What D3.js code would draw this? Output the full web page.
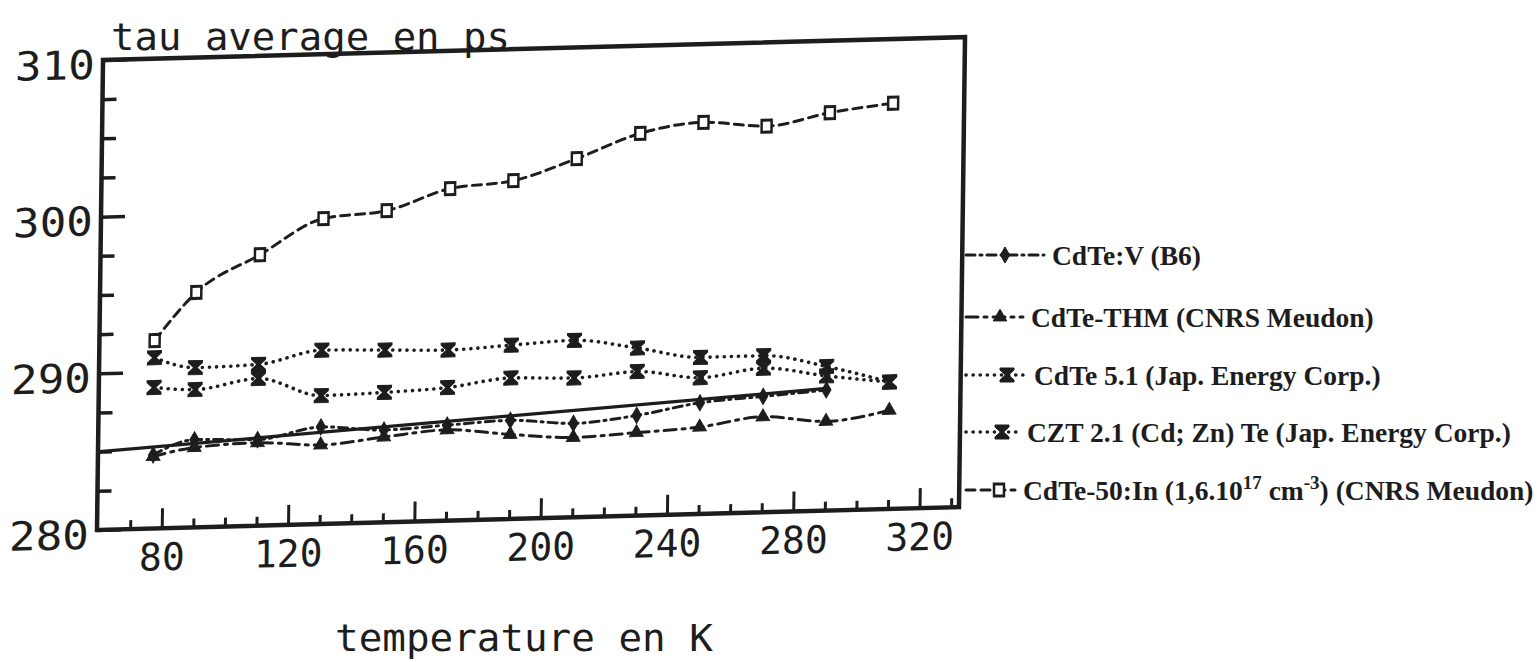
<!DOCTYPE html>
<html><head><meta charset="utf-8">
<script src="https://cdn.jsdelivr.net/npm/d3@7"></script>
<style>html,body{margin:0;padding:0;background:#fff;overflow:hidden}</style>
</head><body><svg id="c" width="1538" height="662"></svg>
<script>
// ---- data ----
const temps    = [77, 90, 110, 130, 150, 170, 190, 210, 230, 250, 270, 290, 310];
const tempsV   = [77, 90, 110, 130, 150, 170, 190, 210, 230, 250, 270, 290];
const cdteIn   = [292.0, 295.0, 297.3, 299.5, 299.9, 301.2, 301.6, 302.9, 304.4, 305.0, 304.65, 305.4, 305.9];
const cdte51   = [290.9, 290.2, 290.3, 291.1, 291.0, 290.9, 291.1, 291.3, 290.7, 290.0, 290.0, 289.2, 288.1];
const czt21    = [289.0, 288.8, 289.4, 288.2, 288.3, 288.5, 289.0, 288.9, 289.2, 288.7, 289.2, 288.6, 288.1];
const cdteV    = [284.7, 285.6, 285.5, 286.2, 285.9, 286.1, 286.3, 286.0, 286.4, 287.1, 287.4, 287.7];
const cdteTHM  = [284.6, 285.1, 285.3, 285.05, 285.45, 285.8, 285.4, 285.1, 285.3, 285.55, 286.1, 285.7, 286.3];
const fitT     = [60, 290];
const fitV     = [285.0, 287.8];
const yTicks   = [280, 282.5, 285, 287.5, 290, 292.5, 295, 297.5, 300, 302.5, 305, 307.5, 310];
const yLabels  = [280, 290, 300, 310];
const xTicks   = [70, 80, 90, 100, 110, 120, 130, 140, 150, 160, 170, 180, 190, 200, 210, 220, 230, 240, 250, 260, 270, 280, 290, 300, 310, 320, 330];
const xLabels  = [80, 120, 160, 200, 240, 280, 320];
const seriesNames = ["CdTe:V (B6)", "CdTe-THM (CNRS Meudon)", "CdTe 5.1 (Jap. Energy Corp.)", "CZT 2.1 (Cd; Zn) Te (Jap. Energy Corp.)", "CdTe-50:In"];
const yTitle = "tau average en ps";
const xTitle = "temperature en K";

// ---- drawing ----
const ink = "#1d1d1d";
const svg = d3.select("#c");
svg.append("rect").attr("width", 1538).attr("height", 662).attr("fill", "#fff");

const L = 97, R = 959, T = 60, B = 530;
const x = d3.scaleLinear().domain([59.5, 332.5]).range([L, R]);
const y = d3.scaleLinear().domain([280, 310]).range([B, T]);

// the scanned page is slightly skewed
const kx = 0.0128, ky = 0.0266;
const g = svg.append("g").attr("transform", `matrix(1,${-ky},${-kx},1,${kx * B},${ky * L})`);

const mono = "'DejaVu Sans Mono', monospace";

// y ticks (inward)
const yAx = g.append("g").attr("transform", `translate(${L},0)`)
  .call(d3.axisRight(y).tickValues(yTicks).tickSize(14).tickFormat(""));
yAx.select(".domain").remove();
yAx.selectAll(".tick line").attr("stroke", ink).attr("stroke-width", 3.5)
  .attr("x2", d => (d % 10 === 0 ? 24 : 14));

// y labels
const yLab = g.append("g").attr("transform", `translate(${L},0)`)
  .call(d3.axisLeft(y).tickValues(yLabels).tickSize(0).tickPadding(8).tickFormat(d3.format("d")));
yLab.select(".domain").remove();
yLab.selectAll("text").attr("font-family", mono).attr("font-size", 40).attr("fill", ink)
  .attr("dy", "0.45em").attr("textLength", 80).attr("lengthAdjust", "spacingAndGlyphs");

// x ticks (inward)
const xAx = g.append("g").attr("transform", `translate(0,${B})`)
  .call(d3.axisTop(x).tickValues(xTicks).tickSize(9).tickFormat(""));
xAx.select(".domain").remove();
xAx.selectAll(".tick line").attr("stroke", ink).attr("stroke-width", 3)
  .attr("y2", d => (d % 40 === 0 ? -20 : -9));

// x labels
const xLab = g.append("g").attr("transform", `translate(0,${B})`)
  .call(d3.axisBottom(x).tickValues(xLabels).tickSize(0).tickPadding(15).tickFormat(d3.format("d")));
xLab.select(".domain").remove();
xLab.selectAll("text").attr("font-family", mono).attr("font-size", 38).attr("fill", ink);

// frame
g.append("rect").attr("x", L).attr("y", T).attr("width", R - L).attr("height", B - T)
  .attr("fill", "none").attr("stroke", ink).attr("stroke-width", 4.5);

const line = d3.line().x(d => x(d[0])).y(d => y(d[1])).curve(d3.curveMonotoneX);
const straight = d3.line().x(d => x(d[0])).y(d => y(d[1]));

const hourglass = "M-7,-7H7V-5L1.6,0L7,5V7H-7V5L-1.6,0L-7,-5Z";
const mk = {
  square: d3.symbol().type(d3.symbolSquare).size(110)(),
  diamond: d3.symbol().type(d3.symbolDiamond).size(75)(),
  triangle: d3.symbol().type(d3.symbolTriangle).size(80)(),
  hour: hourglass
};

const series = [
  { name: seriesNames[0], t: tempsV, v: cdteV, dash: "9,5,2,5", w: 3, m: "diamond", open: false },
  { name: seriesNames[1], t: temps, v: cdteTHM, dash: "12,6,3,6", w: 3, m: "triangle", open: false },
  { name: seriesNames[2], t: temps, v: cdte51, dash: "0.1,7", w: 3.6, m: "hour", open: false },
  { name: seriesNames[3], t: temps, v: czt21, dash: "0.1,7", w: 3.6, m: "hour", open: false },
  { name: seriesNames[4], t: temps, v: cdteIn, dash: "9,6", w: 3, m: "square", open: true }
];

// solid fitted line
g.append("path").attr("d", straight(d3.zip(fitT, fitV)))
  .attr("fill", "none").attr("stroke", ink).attr("stroke-width", 3.2);

series.forEach(s => {
  const pts = d3.zip(s.t, s.v);
  g.append("path").attr("d", line(pts)).attr("fill", "none").attr("stroke", ink)
    .attr("stroke-width", s.w).attr("stroke-dasharray", s.dash).attr("stroke-linecap", "round");
  g.selectAll(null).data(pts).join("path")
    .attr("transform", d => `translate(${x(d[0])},${y(d[1])})${s.m === "square" ? " scale(0.95,1.15)" : ""}`)
    .attr("d", mk[s.m])
    .attr("fill", s.open ? "#fff" : ink)
    .attr("stroke", ink).attr("stroke-width", s.open ? 2.6 : 1);
});

// titles
svg.append("text").attr("x", 111).attr("y", 50).attr("font-family", mono).attr("font-size", 38)
  .attr("fill", ink).attr("textLength", 399).attr("lengthAdjust", "spacingAndGlyphs").text(yTitle);
svg.append("text").attr("x", 335).attr("y", 651).attr("font-family", mono).attr("font-size", 38)
  .attr("fill", ink).attr("textLength", 378).attr("lengthAdjust", "spacingAndGlyphs").text(xTitle);

// legend
const legY = [255, 317, 375, 432, 490];
const legTextX = [1052, 1031, 1034, 1027, 1023];
const legMarkX = [1005, 1000, 1007, 1002, 999];
const serif = "'Liberation Serif', 'Times New Roman', serif";
series.forEach((s, i) => {
  const lg = svg.append("g");
  lg.append("line").attr("x1", 966).attr("x2", legTextX[i] - 8).attr("y1", legY[i]).attr("y2", legY[i])
    .attr("stroke", ink).attr("stroke-width", s.w).attr("stroke-dasharray", s.dash).attr("stroke-linecap", "round");
  lg.append("path").attr("transform", `translate(${legMarkX[i]},${legY[i]})${s.m === "square" ? " scale(0.95,1.15)" : ""}`)
    .attr("d", mk[s.m]).attr("fill", s.open ? "#fff" : ink).attr("stroke", ink).attr("stroke-width", s.open ? 2.6 : 1);
  const tx = lg.append("text").attr("x", legTextX[i]).attr("y", legY[i]).attr("dy", "0.35em")
    .attr("font-family", serif).attr("font-weight", "bold").attr("font-size", 27.5).attr("fill", ink);
  if (i < 4) {
    tx.text(s.name);
  } else {
    tx.append("tspan").text(s.name + " (1,6.10");
    tx.append("tspan").attr("dy", -11).attr("font-size", 19).text("17");
    tx.append("tspan").attr("dy", 11).text(" cm");
    tx.append("tspan").attr("dy", -11).attr("font-size", 19).text("-3");
    tx.append("tspan").attr("dy", 11).text(") (CNRS Meudon)");
  }
});
</script>
</body></html>
